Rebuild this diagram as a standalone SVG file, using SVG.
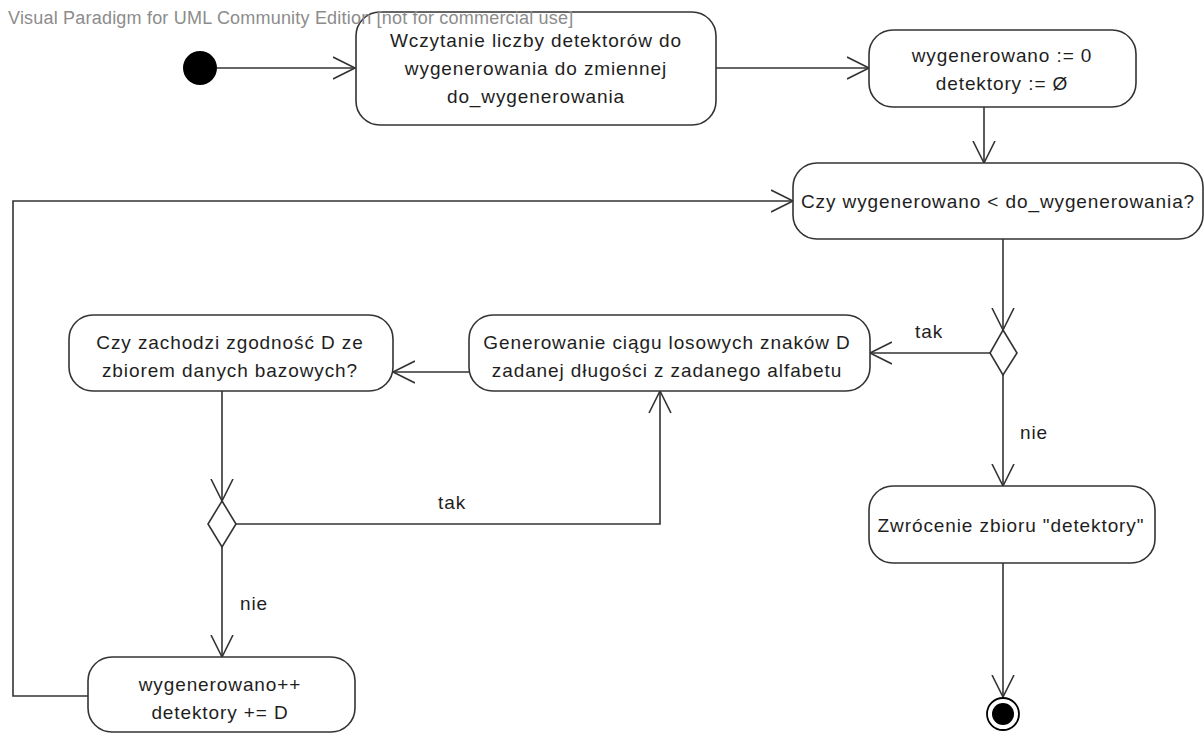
<svg xmlns="http://www.w3.org/2000/svg" width="1204" height="733" viewBox="0 0 1204 733">
<style>
.n{fill:#fff;stroke:#333;stroke-width:1.6}
.t{font-family:"Liberation Sans",Arial,sans-serif;font-size:19px;letter-spacing:0.9px;fill:#1e1e1e;text-anchor:middle}
.l{font-family:"Liberation Sans",Arial,sans-serif;font-size:19px;letter-spacing:0.9px;fill:#1e1e1e}
.c{fill:none;stroke:#333;stroke-width:1.6}
.w{font-family:"Liberation Sans",Arial,sans-serif;font-size:18px;letter-spacing:0.2px;fill:#8c8c8c}
</style>
<defs>
<marker id="arr" markerWidth="24" markerHeight="26" refX="22" refY="12" orient="auto" markerUnits="userSpaceOnUse">
<path d="M0,1 L22,12 L0,23" fill="none" stroke="#333" stroke-width="1.6"/>
</marker>
</defs>
<rect width="1204" height="733" fill="#fff"/>
<g id="connectors">
<line class="c" x1="217" y1="68" x2="355" y2="68" marker-end="url(#arr)"/>
<line class="c" x1="716" y1="68" x2="869" y2="68" marker-end="url(#arr)"/>
<line class="c" x1="984" y1="107" x2="984" y2="163" marker-end="url(#arr)"/>
<polyline class="c" points="88,696 13,696 13,201 793,201" marker-end="url(#arr)"/>
<line class="c" x1="1003" y1="239" x2="1003" y2="330" marker-end="url(#arr)"/>
<line class="c" x1="990" y1="353" x2="870" y2="353" marker-end="url(#arr)"/>
<line class="c" x1="1003" y1="375" x2="1003" y2="486" marker-end="url(#arr)"/>
<line class="c" x1="469" y1="372" x2="393" y2="372" marker-end="url(#arr)"/>
<line class="c" x1="222" y1="391" x2="222" y2="501" marker-end="url(#arr)"/>
<polyline class="c" points="236,524 660,524 660,391" marker-end="url(#arr)"/>
<line class="c" x1="222" y1="547" x2="222" y2="657" marker-end="url(#arr)"/>
<line class="c" x1="1003" y1="563" x2="1003" y2="697" marker-end="url(#arr)"/>
<text class="l" x="915" y="338">tak</text>
<text class="l" x="1020" y="439">nie</text>
<text class="l" x="438" y="509">tak</text>
<text class="l" x="240" y="610">nie</text>
</g>
<g id="start"><circle cx="200" cy="68" r="17" fill="#000"/></g>
<g id="n1">
<rect class="n" x="356" y="12" width="360" height="113" rx="24"/>
<text class="t" x="536" y="47">Wczytanie liczby detektorów do</text>
<text class="t" x="536" y="75">wygenerowania do zmiennej</text>
<text class="t" x="536" y="103">do_wygenerowania</text>
</g>
<g id="n2">
<rect class="n" x="869" y="30" width="267" height="77" rx="24"/>
<text class="t" x="1002" y="62">wygenerowano := 0</text>
<text class="t" x="1002" y="90">detektory := Ø</text>
</g>
<g id="n3">
<rect class="n" x="793" y="163" width="410" height="76" rx="24"/>
<text class="t" x="998" y="208">Czy wygenerowano &lt; do_wygenerowania?</text>
</g>
<g id="d1"><polygon class="n" points="1003,330 1017,353 1003,375 990,353"/></g>
<g id="gen">
<rect class="n" x="469" y="315" width="401" height="76" rx="24"/>
<text class="t" x="667" y="349">Generowanie ciągu losowych znaków D</text>
<text class="t" x="667" y="377">zadanej długości z zadanego alfabetu</text>
</g>
<g id="zgod">
<rect class="n" x="69" y="315" width="324" height="76" rx="24"/>
<text class="t" x="230" y="349">Czy zachodzi zgodność D ze</text>
<text class="t" x="230" y="377">zbiorem danych bazowych?</text>
</g>
<g id="d2"><polygon class="n" points="222,501 236,524 222,547 208,524"/></g>
<g id="inc">
<rect class="n" x="88" y="657" width="267" height="75" rx="24"/>
<text class="t" x="220" y="691">wygenerowano++</text>
<text class="t" x="220" y="719">detektory += D</text>
</g>
<g id="ret">
<rect class="n" x="869" y="486" width="286" height="77" rx="24"/>
<text class="t" x="1011" y="532">Zwrócenie zbioru "detektory"</text>
</g>
<g id="end">
<circle cx="1003" cy="714" r="16" fill="#fff" stroke="#000" stroke-width="1.8"/>
<circle cx="1003" cy="714" r="11" fill="#000"/>
</g>
<text class="w" x="8" y="24">Visual Paradigm for UML Community Edition [not for commercial use]</text>
</svg>
